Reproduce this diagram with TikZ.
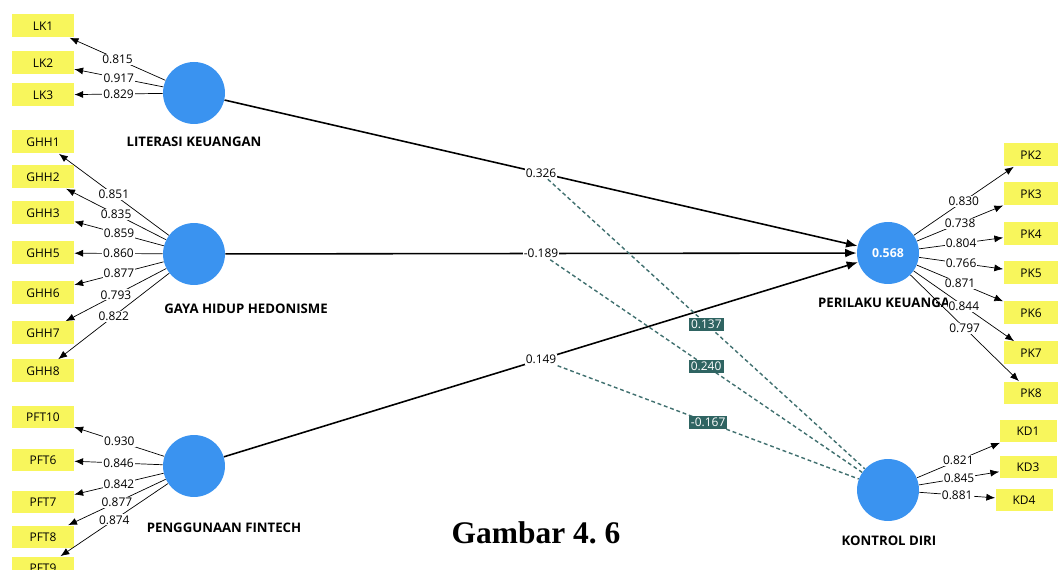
\documentclass[tikz,border=0pt]{standalone}
\usepackage{fontspec}
\setmainfont{Open Sans}
\newfontfamily\capfont{Liberation Serif}
\usetikzlibrary{arrows.meta}
\definecolor{lvblue}{HTML}{3A93F0}
\definecolor{indyellow}{HTML}{F8F65C}
\definecolor{modteal}{HTML}{2F6462}
\def\sm{\fontsize{6.8}{8}\selectfont}

\begin{document}
\begin{tikzpicture}[x=0.02cm,y=-0.02cm,>={Latex[length=5pt,width=4pt]},
	lv/.style={circle,fill=lvblue,minimum size=1.24cm,inner sep=0pt},
	ind/.style={fill=indyellow,minimum width=1.24cm,minimum height=0.46cm,inner sep=0pt,font=\sm},
	indr/.style={ind,minimum width=1.1cm},
	lvname/.style={font=\fontsize{7.5}{9}\selectfont\bfseries},
	load/.style={fill=white,inner sep=0.6pt,font=\sm},
	struct/.style={-{Latex[length=6.5pt,width=5pt]},line width=0.9pt},
	mod/.style={modteal!92!white,line width=0.8pt,dash pattern=on 2.2pt off 1.6pt},
	modlbl/.style={fill=modteal,text=white,inner sep=1.2pt,font=\sm}]
\useasboundingbox (0,0) rectangle (1058,570);
% latent variables
\node[lv] (lk) at (194,93) {};
\node[lv] (ghh) at (194,254) {};
\node[lv] (pft) at (194,466) {};
\node[lv,text=white,font=\fontsize{7}{8}\selectfont\bfseries] (pk) at (888,253) {0.568};
\node[lv] (kd) at (888,490) {};
\node[lvname] (lk-name) at (194,142) {LITERASI KEUANGAN};
\node[lvname] (ghh-name) at (246,309) {GAYA HIDUP HEDONISME};
\node[lvname] (pft-name) at (224,528) {PENGGUNAAN FINTECH};
\node[lvname] (pk-name) at (884,303) {PERILAKU KEUANGA};
\node[lvname] (kd-name) at (889,541) {KONTROL DIRI};
% indicators
\foreach \n/\y/\v in {LK1/26/0.815,LK2/63/0.917,LK3/95/0.829}{
	\node[ind] (\n) at (43,\y) {\n};
	\draw[->] (lk) -- node[load] {\v} (\n);
}
\foreach \n/\y/\v in {GHH1/142/0.851,GHH2/177/0.835,GHH3/213/0.859,GHH5/253/0.860,GHH6/293/0.877,GHH7/333/0.793,GHH8/371/0.822}{
	\node[ind] (\n) at (43,\y) {\n};
	\draw[->] (ghh) -- node[load] {\v} (\n);
}
\foreach \n/\y/\v in {PFT10/417/0.930,PFT6/460/0.846,PFT7/502/0.842,PFT8/537/0.877,PFT9/568/0.874}{
	\node[ind] (\n) at (43,\y) {\n};
	\draw[->] (pft) -- node[load] {\v} (\n);
}
\foreach \n/\y/\v in {PK2/155/0.830,PK3/194/0.738,PK4/234/0.804,PK5/273/0.766,PK6/313/0.871,PK7/353/0.844,PK8/393/0.797}{
	\node[indr] (\n) at (1031,\y) {\n};
	\draw[->] (pk) -- node[load] {\v} (\n);
}
\foreach \n/\x/\y/\v in {KD1/1028/431/0.821,KD3/1028/467/0.845,KD4/1024/500/0.881}{
	\node[indr,minimum width=1.14cm] (\n) at (\x,\y) {\n};
	\draw[->] (kd) -- node[load] {\v} (\n);
}
% inner model
\draw[struct] (lk) -- node[load] (b1) {0.326} (pk);
\draw[struct] (ghh) -- node[load] (b2) {-0.189} (pk);
\draw[struct] (pft) -- node[load] (b3) {0.149} (pk);
\draw[mod] (b1) -- node[modlbl] (m1) {0.137} (kd);
\draw[mod] (b2) -- node[modlbl] (m2) {0.240} (kd);
\draw[mod] (b3) -- node[modlbl] (m3) {-0.167} (kd);
\node[font=\capfont\bfseries\fontsize{17.9}{20}\selectfont] (cap) at (536,533) {Gambar 4.\ 6};
\end{tikzpicture}
\end{document}
